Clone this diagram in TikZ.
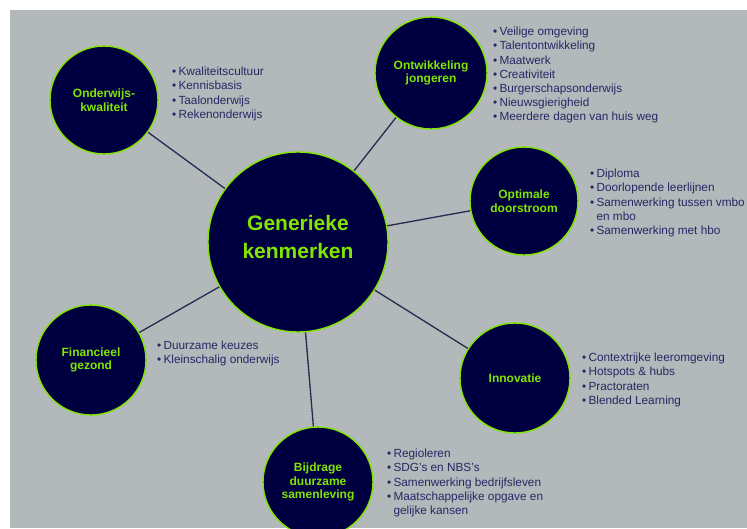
\documentclass[tikz,border=0pt]{standalone}
\usepackage{fontspec}
\setmainfont{Liberation Sans}

\definecolor{achtergrond}{RGB}{179,184,187}
\definecolor{donkerblauw}{RGB}{0,0,64}
\definecolor{lichtgroen}{RGB}{128,230,0}
\definecolor{lijsttekst}{RGB}{38,40,100}
\definecolor{lijnkleur}{RGB}{40,42,80}

\newcommand{\punt}{\textbullet\hspace{2.2pt}}

\begin{document}
\begin{tikzpicture}[x=1pt,y=-1pt,
    bol/.style={circle,draw=lichtgroen,line width=1.4pt,fill=donkerblauw,
      text=lichtgroen,align=center,inner sep=0pt,
      font=\bfseries\fontsize{12}{13.8}\selectfont},
    lijst/.style={anchor=north west,align=left,text=lijsttekst,inner sep=0pt,
      font=\fontsize{11.8}{14.2}\selectfont},
    verbinding/.style={draw=lijnkleur,line width=1.3pt}]
    \useasboundingbox (0,0) rectangle (747,528);
    \fill [achtergrond] (10,10) rectangle (747,528);

    % middelste bol en de zes kenmerken
    \node [bol,minimum size=180pt] (gk) at (298,242) {};
    \node [text=lichtgroen,align=center,font=\bfseries\fontsize{21}{28.5}\selectfont] (gktekst) at (298,237) {Generieke\\kenmerken};
    \node [bol,minimum size=108pt] (ow) at (104,100) {Onderwijs-\\kwaliteit};
    \node [bol,minimum size=112pt] (oj) at (431,73) {Ontwikkeling\\jongeren};
    \node [bol,minimum size=108pt] (od) at (524,201) {Optimale\\doorstroom};
    \node [bol,minimum size=110pt] (fg) at (91,360) {Financieel\\gezond};
    \node [bol,minimum size=110pt] (in) at (515,378) {Innovatie};
    \node [bol,minimum size=110pt] (bd) at (318,482) {Bijdrage\\duurzame\\samenleving};

    \foreach \k in {ow,oj,od,fg,in,bd}
        \draw [verbinding] (gk) -- (\k);

    % opsommingen
    \node [lijst] (owlijst) at (172,67) {\punt Kwaliteitscultuur\\\punt Kennisbasis\\\punt Taalonderwijs\\\punt Rekenonderwijs};
    \node [lijst] (ojlijst) at (493,27) {\punt Veilige omgeving\\\punt Talentontwikkeling\\\punt Maatwerk\\\punt Creativiteit\\\punt Burgerschapsonderwijs\\\punt Nieuwsgierigheid\\\punt Meerdere dagen van huis weg};
    \node [lijst] (odlijst) at (590,169) {\punt Diploma\\\punt Doorlopende leerlijnen\\\punt Samenwerking tussen vmbo\\\phantom{\punt}en mbo\\\punt Samenwerking met hbo};
    \node [lijst] (fglijst) at (157,341) {\punt Duurzame keuzes\\\punt Kleinschalig onderwijs};
    \node [lijst] (inlijst) at (582,353) {\punt Contextrijke leeromgeving\\\punt Hotspots \& hubs\\\punt Practoraten\\\punt Blended Learning};
    \node [lijst] (bdlijst) at (387,449) {\punt Regioleren\\\punt SDG's en NBS's\\\punt Samenwerking bedrijfsleven\\\punt Maatschappelijke opgave en\\\phantom{\punt}gelijke kansen};
\end{tikzpicture}
\end{document}
